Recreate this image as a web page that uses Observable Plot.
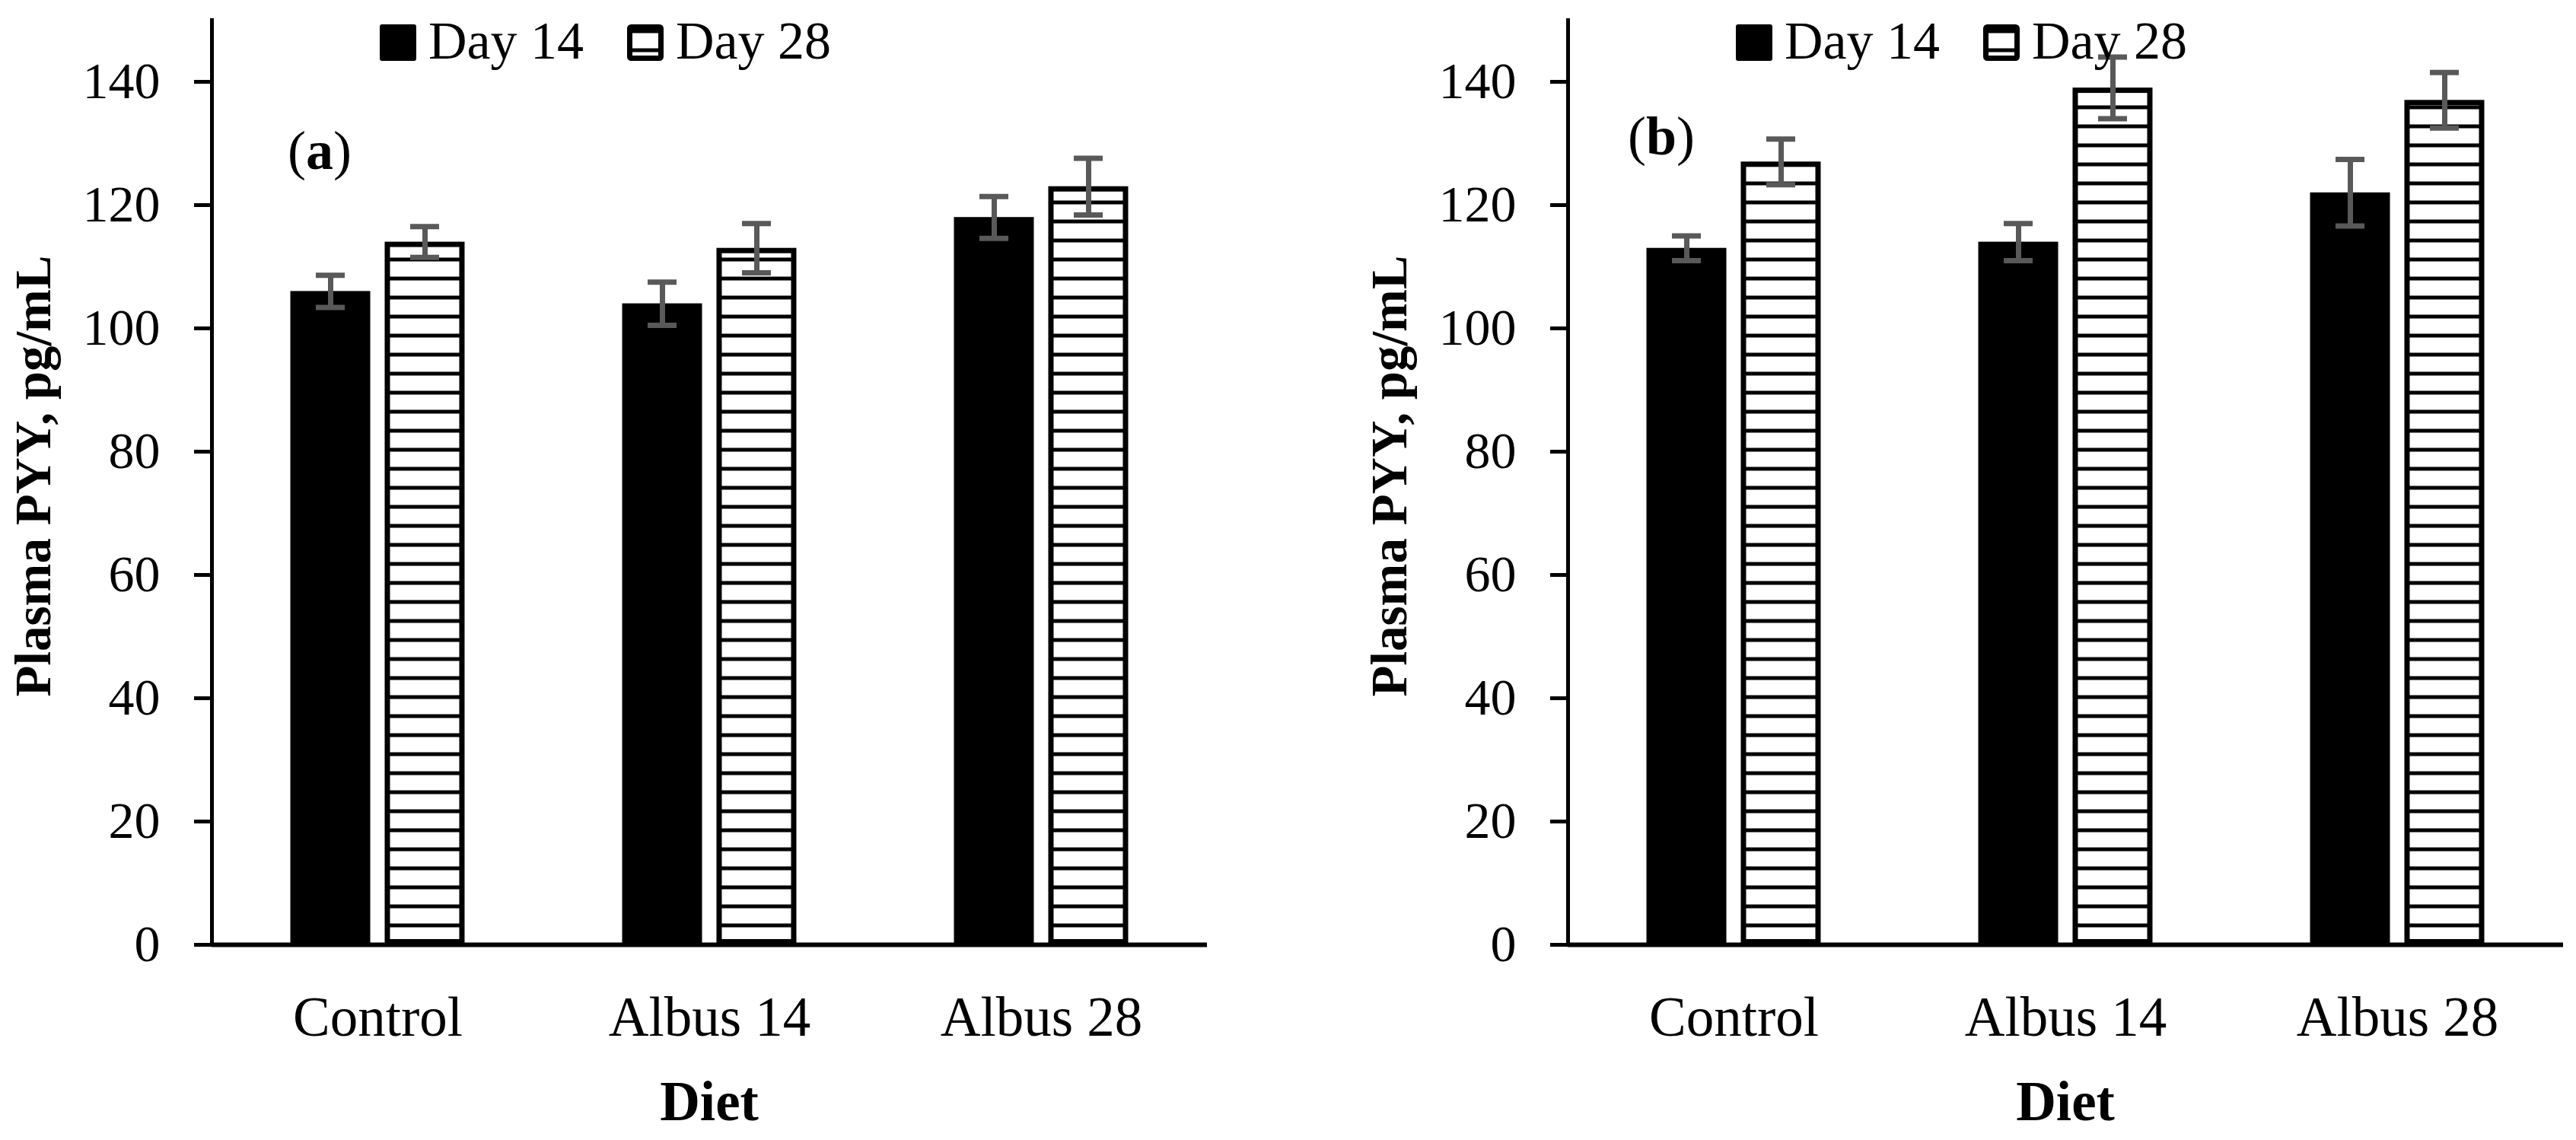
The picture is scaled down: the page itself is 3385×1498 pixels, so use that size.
<!DOCTYPE html>
<html>
<head>
<meta charset="utf-8">
<script src="https://cdn.jsdelivr.net/npm/d3@7"></script>
<script src="https://cdn.jsdelivr.net/npm/@observablehq/plot@0.6"></script>
<style>
  html, body { margin: 0; padding: 0; background: #fff; }
  #wrap { display: flex; width: 3385px; height: 1498px; overflow: hidden; }
  #wrap svg { display: block; flex: none; }
</style>
</head>
<body>
<div id="wrap"></div>
<script>
// ---------- data ----------
const diets = ["Control", "Albus 14", "Albus 28"];
const days = ["Day 14", "Day 28"];
const yTicks = [0, 20, 40, 60, 80, 100, 120, 140];
const yLabel = "Plasma PYY, pg/mL";
const xLabel = "Diet";

// panel (a)
const aDay14 = [106, 104, 118];
const aDay14Err = [2.6, 3.5, 3.4];
const aDay28 = [114, 113, 123];
const aDay28Err = [2.5, 4.0, 4.6];

// panel (b)
const bDay14 = [113, 114, 122];
const bDay14Err = [2.0, 3.0, 5.4];
const bDay28 = [127, 139, 137];
const bDay28Err = [3.7, 5.0, 4.5];

// ---------- drawing ----------
const fontFamily = "'Liberation Serif', 'Times New Roman', serif";

function makeRows(v14, e14, v28, e28) {
  return diets.flatMap((diet, i) => [
    {diet, day: days[0], value: v14[i], err: e14[i]},
    {diet, day: days[1], value: v28[i], err: e28[i]}
  ]);
}

function panel(rows, key, width, labelX, labelY) {
  const pid = "stripes-" + key;
  const plotW = 1308;
  const mL = 278;
  const chart = Plot.plot({
    width,
    height: 1498,
    marginLeft: mL,
    marginRight: width - mL - plotW,
    marginTop: 26,
    marginBottom: 257,
    style: {fontFamily, fontSize: "68px", color: "black", background: "white", overflow: "visible"},
    fx: {domain: diets, padding: 0, round: false},
    x: {domain: days, paddingInner: 0.153, paddingOuter: 0.835, round: false, axis: null},
    y: {domain: [0, 150]},
    color: {domain: days, range: ["black", `url(#${pid})`]},
    marks: [
      Plot.barY(rows, {filter: d => d.day === days[0], fx: "diet", x: "day", y: "value", fill: "day"}),
      Plot.barY(rows, {filter: d => d.day === days[1], fx: "diet", x: "day", y: "value", fill: "day",
        stroke: "black", strokeWidth: 7, inset: 3.5}),
      Plot.ruleX(rows, {fx: "diet", x: "day", y1: d => d.value - d.err, y2: d => d.value + d.err,
        stroke: "#595959", strokeWidth: 7}),
      Plot.tickY(rows, {fx: "diet", x: "day", y: d => d.value + d.err, stroke: "#595959", strokeWidth: 7, inset: 33.5}),
      Plot.tickY(rows, {fx: "diet", x: "day", y: d => d.value - d.err, stroke: "#595959", strokeWidth: 7, inset: 33.5}),
      Plot.ruleY([0], {stroke: "black", strokeWidth: 6}),
      Plot.frame({anchor: "left", facetAnchor: "left", stroke: "black", strokeWidth: 5}),
      Plot.axisY({ticks: yTicks, tickSize: 23, tickPadding: 45, strokeWidth: 5, fontSize: 68, label: null}),
      Plot.axisFx({anchor: "bottom", tickSize: 0, tickPadding: 68, fontSize: 73, label: null})
    ]
  });

  const svg = d3.select(chart);
  // stripe pattern
  const defs = svg.insert("defs", ":first-child");
  const pat = defs.append("pattern")
    .attr("id", pid).attr("patternUnits", "userSpaceOnUse")
    .attr("width", 20).attr("height", 25);
  pat.append("rect").attr("width", 20).attr("height", 25).attr("fill", "white");
  pat.append("rect").attr("y", 13.5).attr("width", 20).attr("height", 5).attr("fill", "black");

  // legend
  const color = chart.scale("color");
  const lg = svg.append("g").attr("font-family", fontFamily).attr("font-size", 70)
    .attr("fill", "black").attr("text-anchor", "start");
  const legendX = [221, 546];
  days.forEach((day, i) => {
    const x0 = mL + legendX[i];
    if (i === 0) {
      lg.append("rect").attr("x", x0).attr("y", 32).attr("width", 48).attr("height", 48)
        .attr("rx", 3).attr("fill", color.apply(day));
    } else {
      lg.append("rect").attr("x", x0 + 3.5).attr("y", 35.5).attr("width", 41).attr("height", 41)
        .attr("rx", 2).attr("fill", color.apply(day)).attr("stroke", "black").attr("stroke-width", 7);
    }
    lg.append("text").attr("x", x0 + 64).attr("y", 77).attr("text-anchor", "start").text(day);
  });

  // panel label
  const pl = svg.append("text").attr("x", labelX).attr("y", labelY)
    .attr("text-anchor", "middle").attr("font-family", fontFamily).attr("font-size", 72).attr("fill", "black");
  pl.append("tspan").text("(");
  pl.append("tspan").attr("font-weight", "bold").text(key);
  pl.append("tspan").text(")");

  // y label
  svg.append("text")
    .attr("transform", `translate(66, ${(26 + 1241) / 2 - 8}) rotate(-90)`)
    .attr("text-anchor", "middle").attr("font-family", fontFamily)
    .attr("font-weight", "bold").attr("font-size", 67).attr("fill", "black")
    .text(yLabel);

  // x label
  svg.append("text")
    .attr("x", mL + plotW / 2).attr("y", 1472)
    .attr("text-anchor", "middle").attr("font-family", fontFamily)
    .attr("font-weight", "bold").attr("font-size", 73).attr("fill", "black")
    .text(xLabel);

  return chart;
}

const wrap = document.getElementById("wrap");
wrap.appendChild(panel(makeRows(aDay14, aDay14Err, aDay28, aDay28Err), "a", 1782, 420, 222));
wrap.appendChild(panel(makeRows(bDay14, bDay14Err, bDay28, bDay28Err), "b", 1603, 401, 203));
</script>
</body>
</html>
